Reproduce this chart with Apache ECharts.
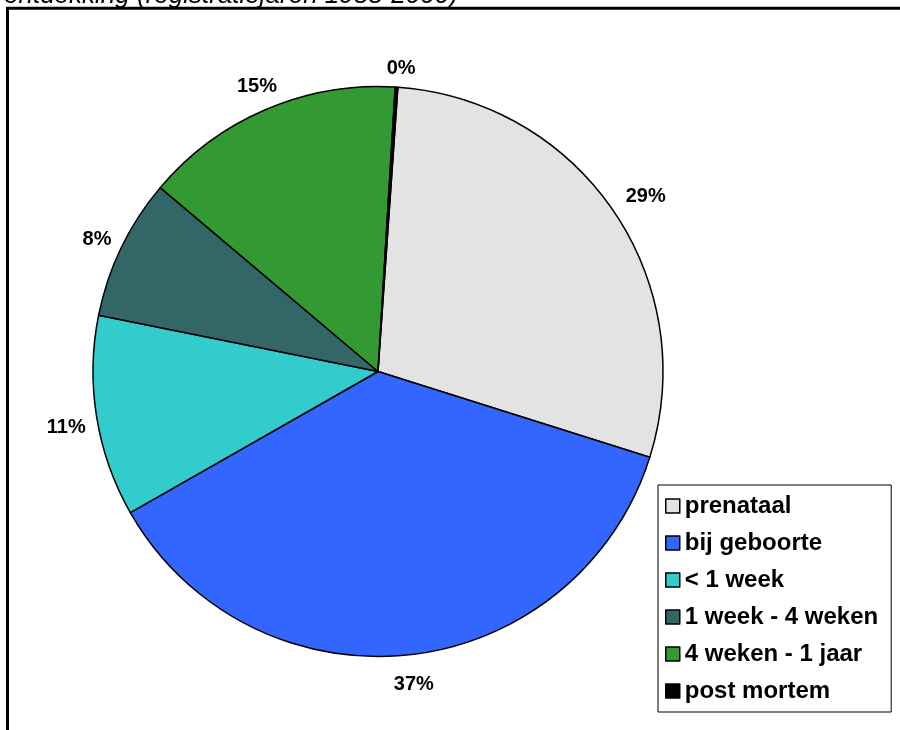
<!DOCTYPE html>
<html>
<head>
<meta charset="utf-8">
<script src="https://cdn.jsdelivr.net/npm/echarts@6/dist/echarts.min.js"></script>
<style>
  html, body { margin: 0; padding: 0; background: #fff; }
  #chart { width: 900px; height: 730px; }
</style>
</head>
<body>
<div id="chart"></div>
<script>
// Moment of discovery, share of registrations (%)
const categories = ['prenataal', 'bij geboorte', '< 1 week', '1 week - 4 weken', '4 weken - 1 jaar', 'post mortem'];
const shares = [28.75, 36.9, 11.4, 8.0, 14.8, 0.15];
const sliceColors = ['#E3E3E3', '#3366FF', '#33CCCC', '#336666', '#339933', '#000000'];
const titleText = 'ontdekking (registratiejaren 1988-2000)';

const FONT = 'Liberation Sans, Arial, sans-serif';
const CENTER = [378, 371.5];
const RADIUS = 285;
const START_ANGLE = 86;      // degrees, counter-clockwise from 3 o'clock
const LABEL_GAP = 13;        // gap between the rim and the nearest side of a label box
const LABEL_SHIFT = [3, 5];  // label boxes sit slightly right of and below their anchor

const pieData = categories.map((name, i) => ({
  name: name,
  value: shares[i],
  itemStyle: { color: sliceColors[i] }
}));

// mid angle of every slice, measured clockwise from 12 o'clock
const total = shares.reduce((a, b) => a + b, 0);
const midAngles = [];
(function () {
  let acc = 90 - START_ANGLE;
  shares.forEach(v => {
    const span = v / total * 360;
    midAngles.push(acc + span / 2);
    acc += span;
  });
})();

// put each label box just outside the rim, along the slice's mid direction
function placeLabel(params) {
  const a = midAngles[params.dataIndex] * Math.PI / 180;
  const ux = Math.sin(a), uy = -Math.cos(a);
  const w = params.labelRect.width, h = params.labelRect.height;
  const reach = RADIUS + LABEL_GAP + Math.abs(ux) * w / 2 + Math.abs(uy) * h / 2;
  return {
    x: CENTER[0] + ux * reach + LABEL_SHIFT[0],
    y: CENTER[1] + uy * reach + LABEL_SHIFT[1],
    align: 'center',
    verticalAlign: 'middle'
  };
}

const chart = echarts.init(document.getElementById('chart'), null, { renderer: 'canvas' });
chart.setOption({
  backgroundColor: '#ffffff',
  animation: false,
  graphic: [
    {
      type: 'text',
      left: 4,
      top: -17,
      style: {
        text: titleText,
        font: 'italic 26px ' + FONT,
        fill: '#000'
      },
      z: 10
    },
    {
      type: 'rect',
      shape: { x: 7.5, y: 8.3, width: 1200, height: 1200 },
      style: { fill: 'none', stroke: '#000', lineWidth: 3 },
      silent: true,
      z: 10
    }
  ],
  legend: {
    orient: 'vertical',
    left: 658,
    top: 485,
    padding: [9, 13, 9, 7],
    itemGap: 13,
    itemWidth: 14,
    itemHeight: 14,
    icon: 'rect',
    borderColor: '#000',
    borderWidth: 1,
    backgroundColor: '#fff',
    itemStyle: { borderColor: '#000', borderWidth: 1.5 },
    textStyle: {
      fontFamily: FONT,
      fontWeight: 'bold',
      fontSize: 24,
      lineHeight: 24,
      color: '#000'
    },
    selectedMode: false,
    data: categories
  },
  series: [
    {
      type: 'pie',
      center: CENTER,
      radius: RADIUS,
      startAngle: START_ANGLE,
      clockwise: true,
      avoidLabelOverlap: false,
      silent: true,
      label: {
        show: true,
        position: 'outside',
        fontFamily: FONT,
        fontWeight: 'bold',
        fontSize: 20,
        color: '#000',
        formatter: p => Math.round(p.percent) + '%'
      },
      labelLine: { show: false },
      labelLayout: placeLabel,
      itemStyle: { borderColor: '#000', borderWidth: 1.5 },
      data: pieData
    }
  ]
});
</script>
</body>
</html>
